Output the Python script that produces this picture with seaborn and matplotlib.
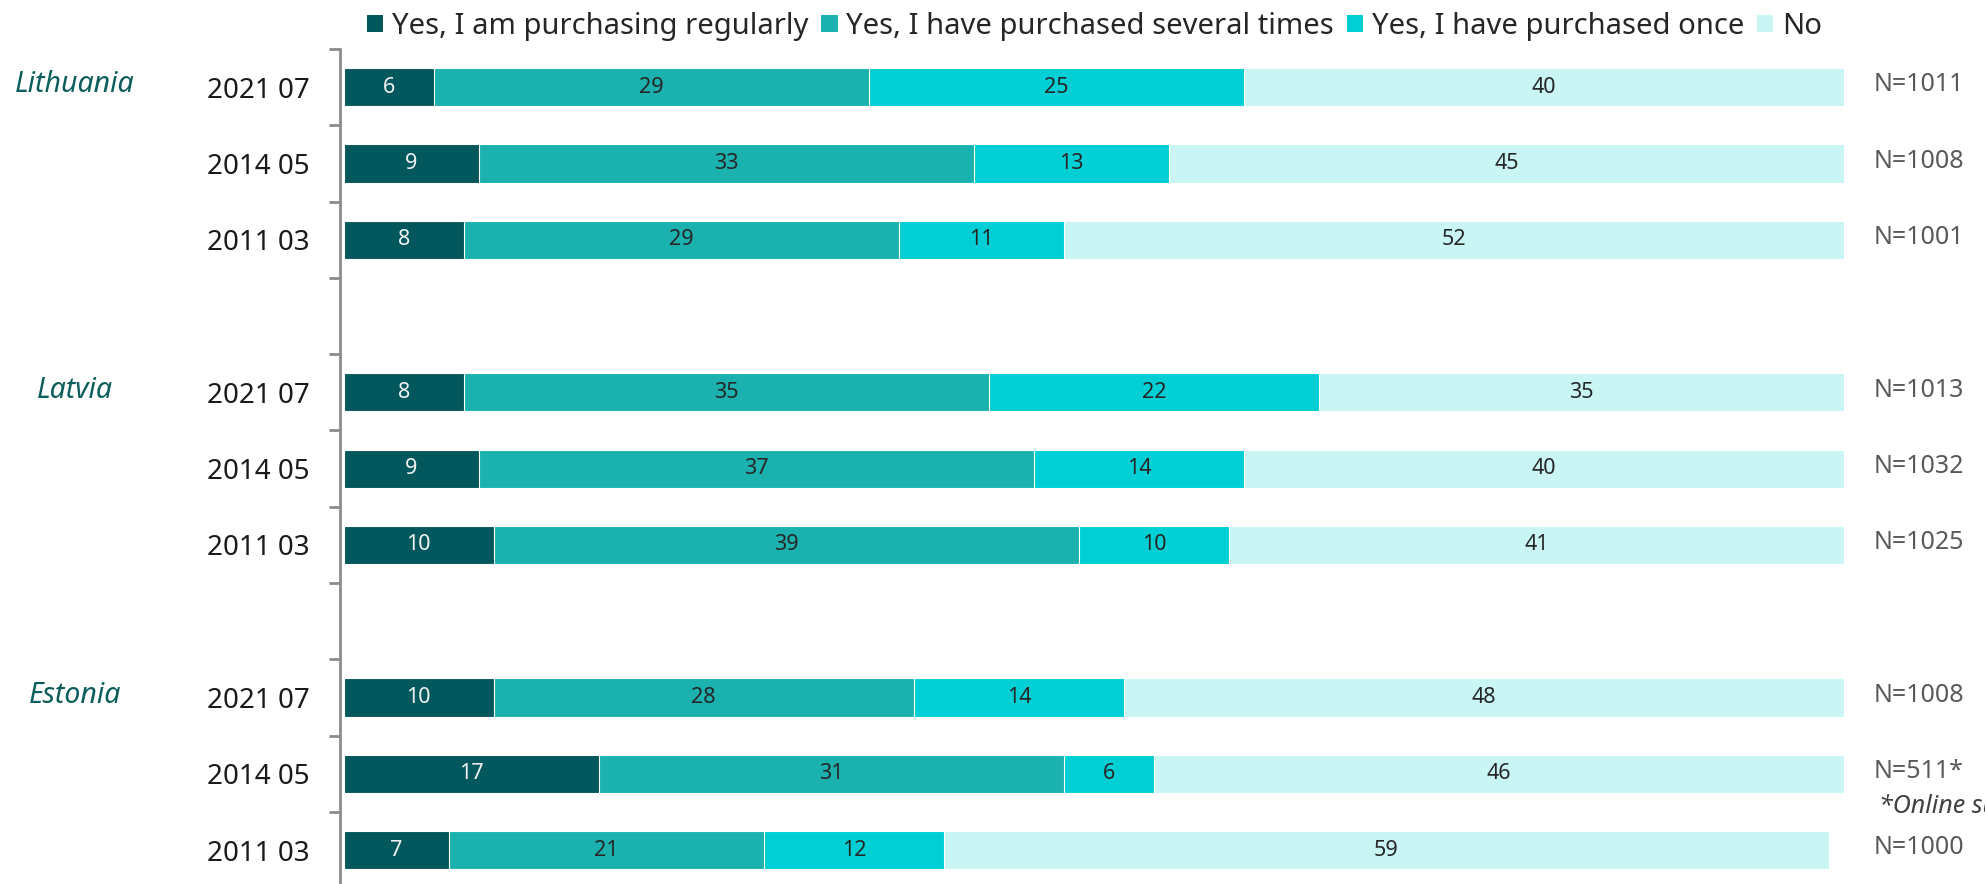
import numpy as np
import pandas as pd
import matplotlib
matplotlib.use("Agg")
import matplotlib.pyplot as plt
import seaborn as sns
from matplotlib.patches import Patch
from matplotlib.ticker import FixedLocator
import matplotlib.transforms as mtransforms

# ---- data -------------------------------------------------------------
countries = ["Lithuania", "Latvia", "Estonia"]
waves = ["2021 07", "2014 05", "2011 03"]
answers = [
    "Yes, I am purchasing regularly",
    "Yes, I have purchased several times",
    "Yes, I have purchased once",
    "No",
]
regularly = [6, 9, 8, 8, 9, 10, 10, 17, 7]
several = [29, 33, 29, 35, 37, 39, 28, 31, 21]
once = [25, 13, 11, 22, 14, 10, 14, 6, 12]
no = [40, 45, 52, 35, 40, 41, 48, 46, 59]
sample_sizes = ["N=1011", "N=1008", "N=1001",
                "N=1013", "N=1032", "N=1025",
                "N=1008", "N=511*", "N=1000"]
footnote = "*Online survey"

palette = ["#02585C", "#1BB1AE", "#00CFD5", "#C9F5F5"]
label_colors = ["#F2F2F2", "#262626", "#262626", "#262626"]
country_color = "#0B5E5C"
axis_gray = "#8C8C8C"

# ---- tidy table -------------------------------------------------------
rows = [f"{c} {w}" for c in countries for w in waves]
values = np.array([regularly, several, once, no]).T  # rows x answers
records = []
for r, vals in zip(rows, values):
    start = 0
    for a, v in zip(answers, vals):
        records.append({"row": r, "answer": a, "value": v,
                        "left": start, "right": start + v})
        start += v
df = pd.DataFrame(records)

# category order with an empty slot between countries
order = []
for i, c in enumerate(countries):
    if i > 0:
        order.append(f"gap{i}")
    order += [f"{c} {w}" for w in waves]
pos = {k: i for i, k in enumerate(order)}

# ---- figure -----------------------------------------------------------
sns.set_theme(style="white")
plt.rcParams["font.family"] = ["Noto Sans", "DejaVu Sans"]

W, H = 1985, 884
fig = plt.figure(figsize=(W / 100, H / 100), dpi=100)
ax_left, ax_right = 340 / W, 1844 / W
ax_top = 1 - 49 / H
ax = fig.add_axes([ax_left, 0.0, ax_right - ax_left, ax_top])

# stacked bars: cumulative totals drawn from widest to narrowest
for i in range(len(answers) - 1, -1, -1):
    sub = df[df["answer"] == answers[i]]
    sns.barplot(data=sub, x="right", y="row", order=order, orient="h",
                color=palette[i], width=0.5, errorbar=None,
                edgecolor="white", linewidth=0.8, saturation=1, ax=ax)

# value labels centred in each segment
for _, rec in df.iterrows():
    i = answers.index(rec["answer"])
    ax.text((rec["left"] + rec["right"]) / 2, pos[rec["row"]], str(rec["value"]),
            ha="center", va="center", fontsize=15.5, color=label_colors[i])

ax.set_xlim(-0.25, 100)
row_span = (H - 49) / 76.3
ax.set_ylim(-0.5 + row_span, -0.5)
ax.set_xlabel("")
ax.set_ylabel("")
ax.xaxis.set_visible(False)

for s in ["top", "right", "bottom"]:
    ax.spines[s].set_visible(False)
ax.spines["left"].set_color(axis_gray)
ax.spines["left"].set_linewidth(2.0)

# date labels at bar rows, Excel-style tick marks between categories
ax.set_yticks([pos[r] for r in rows])
ax.set_yticklabels([r.split(" ", 1)[1] for r in rows])
ax.yaxis.set_minor_locator(FixedLocator(np.arange(-0.5, len(order) + 0.5, 1)))
ax.tick_params(axis="y", which="major", length=0, pad=22, labelsize=20,
               labelcolor="#1A1A1A")
ax.tick_params(axis="y", which="minor", length=8, width=2.0, color=axis_gray,
               left=True)

# country names beside the first wave of each group
fig_x = mtransforms.blended_transform_factory(fig.transFigure, ax.transData)
for c in countries:
    ax.text(75 / W, pos[f"{c} {waves[0]}"] - 0.03, c, transform=fig_x,
            ha="center", va="center", fontsize=20.5, style="italic",
            color=country_color)

# sample sizes on the right
ax_x = mtransforms.blended_transform_factory(ax.transAxes, ax.transData)
for r, n in zip(rows, sample_sizes):
    ax.text(1.02, pos[r] - 0.03, n, transform=ax_x, ha="left", va="center",
            fontsize=18, color="#595959", clip_on=False)
ax.text(1.023, pos[f"Estonia {waves[1]}"] + 0.43, footnote, transform=ax_x,
        ha="left", va="center", fontsize=18, style="italic", color="#404040",
        clip_on=False)

# legend across the top
handles = [Patch(facecolor=c, edgecolor="none") for c in palette]
fig.legend(handles, answers, loc="center", bbox_to_anchor=(0.5515, 0.970),
           ncol=4, frameon=False, fontsize=21, handlelength=0.55,
           handleheight=0.55, handletextpad=0.3, columnspacing=0.45,
           labelcolor="#262626")

fig.savefig("out.png", dpi=100)
